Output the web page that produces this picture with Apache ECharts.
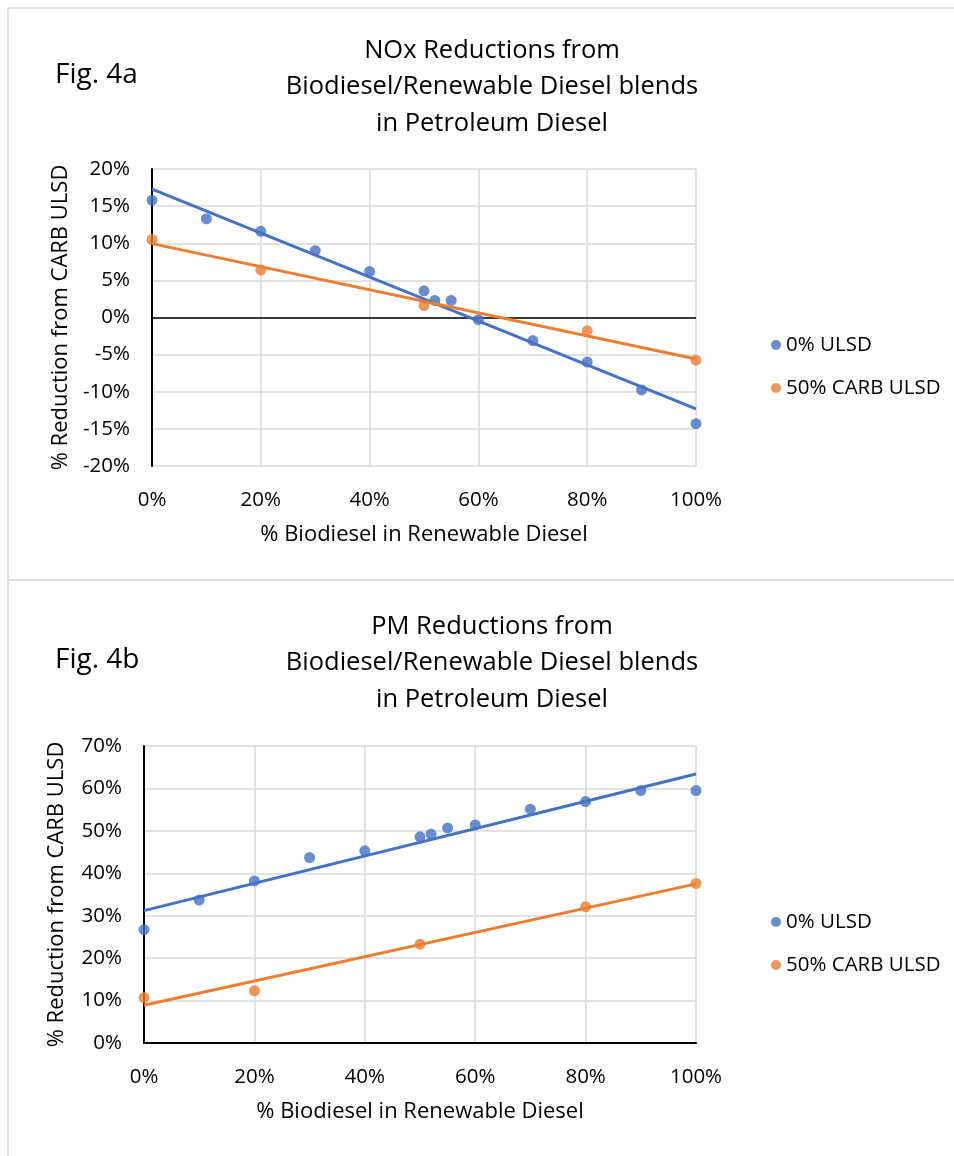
<!DOCTYPE html>
<html>
<head>
<meta charset="utf-8">
<script src="https://cdn.jsdelivr.net/npm/echarts@6/dist/echarts.min.js"></script>
<style>
html,body{margin:0;padding:0;background:#fff;}
#c{width:954px;height:1156px;}
</style>
</head>
<body>
<div id="c"></div>
<script>
// ---- Data ----
var seriesNames = ['0% ULSD', '50% CARB ULSD'];

// Fig. 4a NOx
var noxBlueX = [0, 10, 20, 30, 40, 50, 52, 55, 60, 70, 80, 90, 100];
var noxBlueY = [15.8, 13.3, 11.6, 9.0, 6.2, 3.6, 2.3, 2.3, -0.3, -3.1, -6.0, -9.75, -14.3];
var noxOrangeX = [0, 20, 50, 80, 100];
var noxOrangeY = [10.5, 6.4, 1.6, -1.8, -5.75];
var noxBlueTrend = [17.3, -12.3];     // trendline at x=0 and x=100
var noxOrangeTrend = [9.95, -5.6];

// Fig. 4b PM
var pmBlueX = [0, 10, 20, 30, 40, 50, 52, 55, 60, 70, 80, 90, 100];
var pmBlueY = [26.7, 33.7, 38.2, 43.7, 45.3, 48.6, 49.2, 50.7, 51.4, 55.1, 56.9, 59.5, 59.5];
var pmOrangeX = [0, 20, 50, 80, 100];
var pmOrangeY = [10.7, 12.3, 23.3, 32.1, 37.6];
var pmBlueTrend = [31.2, 63.4];
var pmOrangeTrend = [8.9, 37.5];
var trendX = [0, 100];

var titles = ['NOx Reductions from\nBiodiesel/Renewable Diesel blends\nin Petroleum Diesel',
              'PM Reductions from\nBiodiesel/Renewable Diesel blends\nin Petroleum Diesel'];
var figLabels = ['Fig. 4a', 'Fig. 4b'];
var yName = '% Reduction from CARB ULSD';
var xName = '% Biodiesel in Renewable Diesel';

// ---- Build ----
var BLUE = '#4472C4', ORANGE = '#ED7D31', GRID = '#d9d9d9';
var FONT = 'Open Sans';

function pairs(xs, ys) { return xs.map(function (x, i) { return [x, ys[i]]; }); }

function xAxisCfg(gridIndex, showLine) {
  return {
    gridIndex: gridIndex, type: 'value', min: 0, max: 100, interval: 20,
    name: xName, nameLocation: 'middle', nameGap: 58,
    nameTextStyle: {fontFamily: FONT, fontSize: 22, color: '#000'},
    axisLine: {show: showLine, onZero: false, lineStyle: {color: '#000', width: 2}},
    axisTick: {show: false},
    axisLabel: {formatter: '{value}%', margin: 24, fontFamily: FONT, fontSize: 20.5, color: '#000'},
    splitLine: {show: true, lineStyle: {color: GRID, width: 1.5}}
  };
}
function yAxisCfg(gridIndex, min, max, interval, gap) {
  return {
    gridIndex: gridIndex, type: 'value', min: min, max: max, interval: interval,
    name: yName, nameLocation: 'middle', nameGap: gap,
    nameTextStyle: {fontFamily: FONT, fontSize: 22, color: '#000'},
    axisLine: {show: true, onZero: false, lineStyle: {color: '#000', width: 2}},
    axisTick: {show: false},
    axisLabel: {formatter: '{value}%', margin: 22, fontFamily: FONT, fontSize: 20.5, color: '#000'},
    splitLine: {show: true, lineStyle: {color: GRID, width: 1.5}}
  };
}
function scatter(name, idx, xs, ys, color) {
  return {name: name, type: 'scatter', xAxisIndex: idx, yAxisIndex: idx,
    data: pairs(xs, ys), symbolSize: 11, itemStyle: {color: color}, z: 3, silent: true};
}
function trend(idx, ys, color, extra) {
  var s = {name: 'trend' + idx + color, type: 'line', xAxisIndex: idx, yAxisIndex: idx,
    data: pairs(trendX, ys), showSymbol: false, symbol: 'none',
    lineStyle: {color: color, width: 3}, itemStyle: {color: color}, z: 4, silent: true};
  if (extra) Object.assign(s, extra);
  return s;
}
function legendCfg(top) {
  return {
    data: seriesNames, orient: 'vertical', left: 766, top: top,
    icon: 'circle', itemWidth: 10, itemHeight: 10, itemGap: 19,
    textStyle: {fontFamily: FONT, fontSize: 20.5, color: '#000', lineHeight: 24},
    selectedMode: false
  };
}
function titleCfg(text, top) {
  return {text: text, left: 487, top: top, textAlign: 'center',
    textStyle: {fontFamily: FONT, fontSize: 25.5, fontWeight: 'normal', color: '#000', lineHeight: 36.5}};
}
function figText(text, y) {
  return {type: 'text', silent: true,
    style: {text: text, x: 55, y: y, verticalAlign: 'middle', textVerticalAlign: 'middle',
      font: '28px "Open Sans"', fill: '#000'}};
}

var option = {
  backgroundColor: '#fff',
  animation: false,
  title: [titleCfg(titles[0], 27), titleCfg(titles[1], 603)],
  legend: [legendCfg(328), legendCfg(905)],
  grid: [
    {left: 152, top: 169, width: 544, height: 297},
    {left: 144, top: 746, width: 552, height: 297}
  ],
  xAxis: [xAxisCfg(0, false), xAxisCfg(1, true)],
  yAxis: [yAxisCfg(0, -20, 20, 5, 80), yAxisCfg(1, 0, 70, 10, 76)],
  graphic: [
    {type: 'line', shape: {x1: 8, y1: 8, x2: 954, y2: 8}, style: {stroke: GRID, lineWidth: 1.5}, silent: true},
    {type: 'line', shape: {x1: 8, y1: 8, x2: 8, y2: 1156}, style: {stroke: GRID, lineWidth: 1.5}, silent: true},
    {type: 'line', shape: {x1: 8, y1: 580, x2: 954, y2: 580}, style: {stroke: GRID, lineWidth: 1.5}, silent: true},
    figText(figLabels[0], 75),
    figText(figLabels[1], 660)
  ],
  series: [
    trend(0, noxBlueTrend, BLUE, {markLine: {silent: true, symbol: 'none', label: {show: false},
      lineStyle: {color: '#000', width: 1.5, type: 'solid'}, data: [{yAxis: 0}], z: 2}}),
    trend(0, noxOrangeTrend, ORANGE),
    scatter(seriesNames[0], 0, noxBlueX, noxBlueY, BLUE),
    scatter(seriesNames[1], 0, noxOrangeX, noxOrangeY, ORANGE),
    trend(1, pmBlueTrend, BLUE),
    trend(1, pmOrangeTrend, ORANGE),
    scatter(seriesNames[0], 1, pmBlueX, pmBlueY, BLUE),
    scatter(seriesNames[1], 1, pmOrangeX, pmOrangeY, ORANGE)
  ]
};

var chart = echarts.init(document.getElementById('c'), null, {renderer: 'canvas'});
chart.setOption(option);
</script>
</body>
</html>
